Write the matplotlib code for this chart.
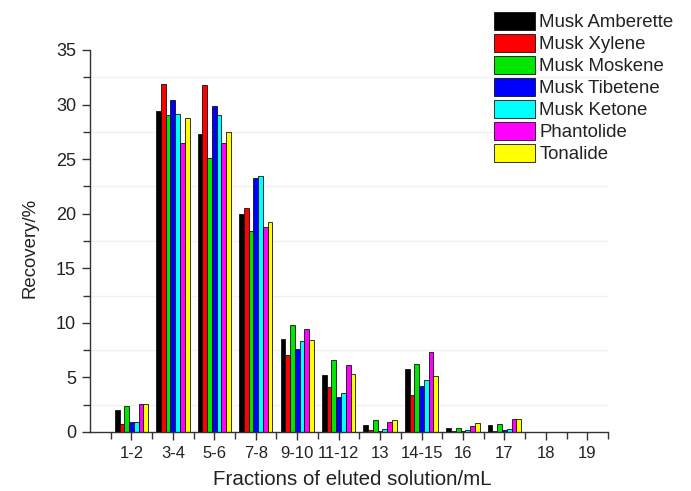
import matplotlib
matplotlib.use("Agg")
import matplotlib.pyplot as plt
import numpy as np

plt.rcParams['font.family'] = ['Liberation Sans', 'DejaVu Sans']

categories = ["1-2", "3-4", "5-6", "7-8", "9-10", "11-12", "13", "14-15", "16", "17", "18", "19"]
series_names = ["Musk Amberette", "Musk Xylene", "Musk Moskene", "Musk Tibetene",
                "Musk Ketone", "Phantolide", "Tonalide"]
musk_amberette = [2.0, 29.4, 27.3, 19.95, 8.5, 5.2, 0.64, 5.75, 0.39, 0.64, 0, 0]
musk_xylene    = [0.73, 31.9, 31.75, 20.55, 7.05, 4.15, 0.18, 3.4, 0.1, 0.1, 0, 0]
musk_moskene   = [2.4, 29.05, 25.15, 18.45, 9.8, 6.6, 1.07, 6.2, 0.39, 0.7, 0, 0]
musk_tibetene  = [0.9, 30.4, 29.9, 23.3, 7.6, 3.2, 0.1, 4.25, 0.05, 0.18, 0, 0]
musk_ketone    = [0.9, 29.1, 29.05, 23.45, 8.3, 3.6, 0.25, 4.8, 0.15, 0.27, 0, 0]
phantolide     = [2.6, 26.45, 26.45, 18.8, 9.45, 6.1, 0.9, 7.3, 0.58, 1.16, 0, 0]
tonalide       = [2.57, 28.8, 27.45, 19.2, 8.45, 5.3, 1.07, 5.15, 0.8, 1.16, 0, 0]
series_values = [musk_amberette, musk_xylene, musk_moskene, musk_tibetene,
                 musk_ketone, phantolide, tonalide]
colors = ["#000000", "#ff0000", "#00e600", "#0000ff", "#00ffff", "#ff00ff", "#ffff00"]

fig = plt.figure(figsize=(6.91, 4.91), dpi=100)
ax = fig.add_axes([90/691, 1 - 432/491, 518/691, 382/491])

x = np.arange(1, len(categories) + 1)
w = 0.115
n = len(series_names)
handles = []
for i, (name, vals, c) in enumerate(zip(series_names, series_values, colors)):
    off = (i - (n - 1) / 2) * w
    b = ax.bar(x + off, vals, width=w, color=c, edgecolor="#111111", linewidth=0.6,
               label=name, zorder=2)
    handles.append(b)

for g in np.arange(2.5, 35, 5):
    ax.axhline(g, color="#f0f0f0", lw=1.0, zorder=0)

ax.set_xlim(0, 12.5)
ax.set_ylim(0, 35)
ax.set_xticks(x)
ax.set_xticklabels(categories)
ax.set_xticks(np.arange(0.5, 12.6, 1.0), minor=True)
ax.set_yticks(np.arange(0, 36, 5))
ax.set_yticks(np.arange(2.5, 35, 5), minor=True)
for s in ["top", "right"]:
    ax.spines[s].set_visible(False)
for s in ["left", "bottom"]:
    ax.spines[s].set_color("#333333")
    ax.spines[s].set_linewidth(1.0)
ax.tick_params(axis="both", which="major", direction="out", length=6, width=1.0,
               color="#333333", labelcolor="#222222", pad=4)
ax.tick_params(axis="x", which="major", labelsize=12)
ax.tick_params(axis="y", which="major", labelsize=13)
ax.tick_params(axis="both", which="minor", direction="out", length=5, width=1.0,
               color="#333333")

fig.text(352/691, 1 - 485/491, "Fractions of eluted solution/mL", ha="center", va="baseline",
         fontsize=14.8, color="#222222")
fig.text(30/691, 1 - 248/491, "Recovery/%", ha="center", va="center", rotation=90,
         fontsize=13.4, color="#222222")

leg = fig.legend(handles=handles, labels=series_names, loc="upper left",
                 bbox_to_anchor=(490/691, 1 - 8/491), frameon=False, fontsize=13.4,
                 handlelength=2.2, handleheight=1.1, labelspacing=0.15,
                 handletextpad=0.25, borderpad=0.2, borderaxespad=0)
for t in leg.get_texts():
    t.set_color("#222222")

fig.savefig("out.png", dpi=100)
